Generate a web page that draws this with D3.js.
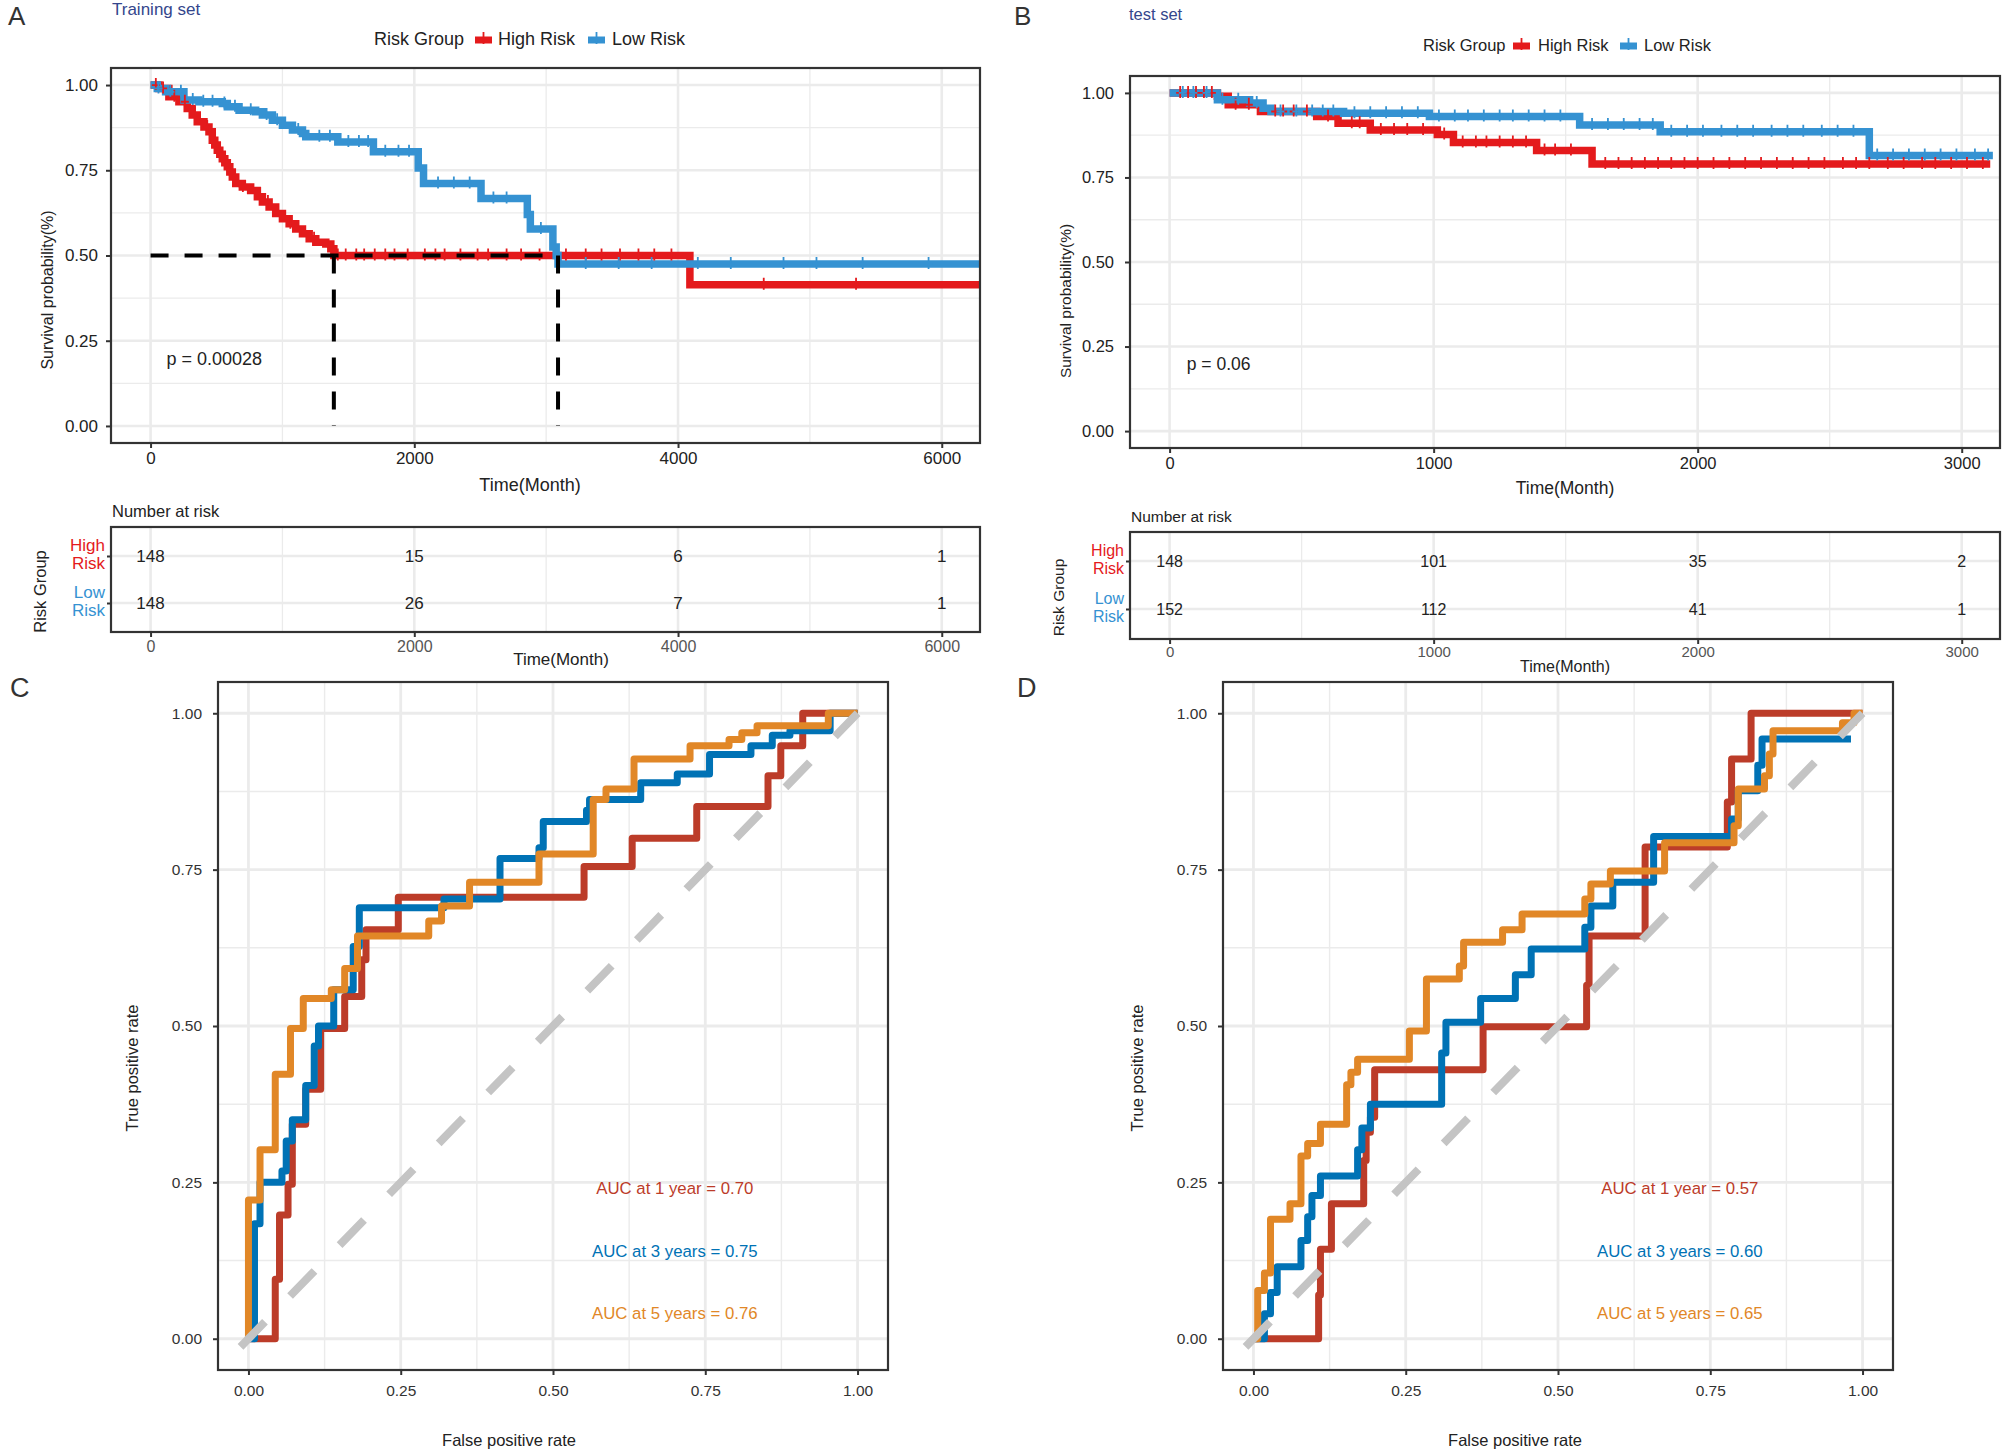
<!DOCTYPE html>
<html>
<head>
<meta charset="utf-8">
<script src="https://cdn.jsdelivr.net/npm/d3@7"></script>
<style>
  body { margin: 0; background: #fff; }
  svg text { font-family: "Liberation Sans", Arial, sans-serif; }
</style>
</head>
<body>
<svg id="fig" width="2008" height="1450"></svg>
<script>
// ---- Kaplan-Meier step data: [time, survival] ----
const trainHigh = [[0,1],[63,0.99],[139,0.966],[215,0.951],[278,0.931],[316,0.912],[354,0.892],[405,0.877],
  [443,0.863],[468,0.838],[487,0.824],[506,0.809],[525,0.797],[544,0.784],[563,0.772],[582,0.76],[601,0.745],
  [620,0.73],[646,0.711],[696,0.701],[759,0.691],[810,0.672],[848,0.657],[899,0.642],[949,0.623],[1000,0.608],
  [1051,0.593],[1101,0.578],[1152,0.564],[1203,0.549],[1253,0.539],[1329,0.534],[1367,0.52],[1390,0.5],
  [4090,0.414],[6290,0.414]];
const trainLow = [[0,1],[51,0.99],[114,0.98],[253,0.956],[367,0.951],[544,0.946],[582,0.936],[671,0.926],
  [797,0.922],[848,0.912],[924,0.897],[1000,0.882],[1076,0.868],[1152,0.858],[1177,0.848],[1420,0.833],
  [1690,0.804],[2030,0.757],[2070,0.711],[2506,0.667],[2857,0.62],[2880,0.578],[3051,0.525],[3076,0.5],
  [3090,0.475],[6290,0.475]];
const testHigh = [[0,1],[181,0.99],[222,0.965],[344,0.945],[557,0.93],[638,0.91],[760,0.89],[1014,0.877],
  [1075,0.853],[1390,0.83],[1600,0.79],[3108,0.79]];
const testLow = [[0,1],[181,0.98],[303,0.97],[354,0.955],[384,0.945],[659,0.94],[984,0.93],[1553,0.905],
  [1858,0.885],[2650,0.815],[3118,0.815]];

// censoring times
const trainHighCensor = [40,95,180,260,430,700,890,1060,1240,1420,1480,1560,1620,1700,1780,1850,1950,2080,
  2160,2230,2350,2480,2560,2700,2810,2950,3150,3300,3420,3560,3700,3820,3950,4650,5350];
const trainLowCensor = [60,150,230,320,400,470,560,640,760,880,960,1120,1280,1360,1500,1580,1650,1780,1880,
  1960,2180,2300,2420,2600,2700,2960,3300,3550,3800,4150,4400,4800,5050,5400,5900];
const testHighCensor = [40,70,100,130,160,250,300,400,430,470,520,600,690,720,800,850,900,960,1040,1110,1160,
  1200,1250,1300,1350,1420,1460,1520,1650,1700,1750,1800,1850,1900,1950,2000,2060,2120,2180,2240,2300,2360,
  2420,2480,2550,2600,2650,2720,2780,2850,2900,2960,3020,3080];
const testLowCensor = [50,90,140,200,260,330,420,480,540,580,620,700,760,820,880,940,1020,1080,1130,1190,1250,
  1300,1360,1420,1480,1600,1660,1720,1780,1830,1900,1960,2020,2090,2150,2210,2280,2340,2400,2470,2530,2590,
  2680,2740,2800,2860,2920,2980,3050,3100];

const trainMedians = [1390, 3090];
const trainP = 'p = 0.00028';
const testP = 'p = 0.06';

// number at risk
const riskGroups = ['High Risk', 'Low Risk'];
const trainRiskTimes = [0, 2000, 4000, 6000];
const trainRiskHigh = [148, 15, 6, 1];
const trainRiskLow = [148, 26, 7, 1];
const testRiskTimes = [0, 1000, 2000, 3000];
const testRiskHigh = [148, 101, 35, 2];
const testRiskLow = [152, 112, 41, 1];

// ---- time-dependent ROC: [FPR, TPR] at each jump ----
const rocLabels = ['AUC at 1 year', 'AUC at 3 years', 'AUC at 5 years'];
const trainAUC = [0.70, 0.75, 0.76];
const testAUC = [0.57, 0.60, 0.65];
const trainRoc1 = [[0,0],[0.044,0.095],[0.051,0.198],[0.065,0.247],[0.072,0.343],[0.094,0.399],[0.1185,0.496],
  [0.158,0.547],[0.186,0.606],[0.193,0.654],[0.246,0.706],[0.551,0.755],[0.63,0.8],[0.736,0.851],[0.853,0.9],
  [0.874,0.948],[0.91,1],[1,1]];
const trainRoc3 = [[0,0],[0.0099,0.184],[0.019,0.25],[0.055,0.268],[0.062,0.316],[0.072,0.35],[0.094,0.405],
  [0.108,0.468],[0.115,0.5],[0.14,0.558],[0.172,0.627],[0.182,0.689],[0.321,0.703],[0.413,0.768],[0.477,0.785],
  [0.484,0.827],[0.555,0.845],[0.56,0.862],[0.644,0.889],[0.704,0.903],[0.757,0.934],[0.825,0.948],[0.86,0.965],
  [0.889,0.972],[0.955,1],[1,1]];
const trainRoc5 = [[0,0],[0,0.222],[0.019,0.302],[0.044,0.423],[0.069,0.496],[0.09,0.544],[0.136,0.558],
  [0.158,0.592],[0.179,0.644],[0.296,0.668],[0.317,0.692],[0.363,0.73],[0.477,0.775],[0.566,0.862],[0.587,0.879],
  [0.633,0.927],[0.725,0.948],[0.789,0.958],[0.81,0.969],[0.835,0.98],[0.952,1],[1,1]];
const testRoc1 = [[0,0],[0.107,0.07],[0.11,0.143],[0.128,0.216],[0.181,0.285],[0.185,0.33],[0.192,0.354],
  [0.199,0.43],[0.377,0.499],[0.547,0.565],[0.551,0.644],[0.643,0.786],[0.778,0.858],[0.785,0.927],[0.817,1],[1,1]];
const testRoc3 = [[0,0],[0.018,0.04],[0.028,0.074],[0.039,0.115],[0.078,0.157],[0.089,0.195],[0.096,0.229],
  [0.11,0.26],[0.171,0.302],[0.178,0.337],[0.192,0.375],[0.309,0.457],[0.316,0.506],[0.373,0.544],[0.43,0.582],
  [0.456,0.623],[0.544,0.658],[0.554,0.692],[0.59,0.73],[0.657,0.803],[0.785,0.831],[0.796,0.876],[0.828,0.917],
  [0.835,0.959],[0.981,0.959]];
const testRoc5 = [[0,0],[0.007,0.077],[0.018,0.105],[0.028,0.191],[0.06,0.216],[0.078,0.292],[0.089,0.312],
  [0.11,0.343],[0.153,0.406],[0.16,0.426],[0.171,0.447],[0.256,0.492],[0.284,0.575],[0.338,0.596],[0.345,0.634],
  [0.409,0.654],[0.441,0.679],[0.544,0.703],[0.554,0.727],[0.586,0.748],[0.675,0.793],[0.789,0.82],[0.796,0.879],
  [0.839,0.9],[0.847,0.935],[0.853,0.972],[0.967,0.985],[0.986,1],[1,1]];

const HIGH = '#E41A1C', LOW = '#3592D2';
const ROC_COLORS = ['#BC3C29', '#0072B5', '#E18727'];
const GRID = '#EBEBEB';

const svg = d3.select('#fig');
const defs = svg.append('defs');

function label(g, txt, x, y, size, opts = {}) {
  const t = g.append('text').attr('x', x).attr('y', y).attr('font-size', size)
    .attr('fill', opts.fill || '#222').attr('text-anchor', opts.anchor || 'start').text(txt);
  if (opts.rotate) {
    t.attr('x', 0).attr('y', 0).attr('transform', `translate(${x},${y}) rotate(-90)`)
      .attr('text-anchor', 'middle').attr('dominant-baseline', 'central');
  }
  if (opts.central) t.attr('dominant-baseline', 'central');
  return t;
}

function gridLines(g, x, y, box, xs, ys, width) {
  g.append('g').selectAll('line').data(xs).join('line')
    .attr('x1', d => x(d)).attr('x2', d => x(d)).attr('y1', box.top).attr('y2', box.bottom)
    .attr('stroke', GRID).attr('stroke-width', width);
  g.append('g').selectAll('line').data(ys).join('line')
    .attr('y1', d => y(d)).attr('y2', d => y(d)).attr('x1', box.left).attr('x2', box.right)
    .attr('stroke', GRID).attr('stroke-width', width);
}

function styleAxis(ax, size, fill) {
  ax.attr('font-family', null).attr('font-size', size);
  ax.select('.domain').remove();
  ax.selectAll('.tick line').attr('stroke', '#333').attr('stroke-width', 2);
  ax.selectAll('.tick text').attr('fill', fill);
}

function border(g, box) {
  g.append('rect').attr('x', box.left).attr('y', box.top)
    .attr('width', box.right - box.left).attr('height', box.bottom - box.top)
    .attr('fill', 'none').attr('stroke', '#333').attr('stroke-width', 2.2);
}

function survAt(values, t) {
  const i = d3.bisector(d => d[0]).right(values, t) - 1;
  return values[Math.max(0, i)][1];
}

function plusMark(g, cx, cy, color) {
  g.append('path').attr('d', `M${cx - 4},${cy}H${cx + 4}M${cx},${cy - 7}V${cy + 5}`)
    .attr('stroke', color).attr('stroke-width', 1.8).attr('fill', 'none');
}

function drawKM(o) {
  const g = svg.append('g');
  const x = d3.scaleLinear().domain(o.xDomain).range([o.left, o.right]);
  const y = d3.scaleLinear().domain([-0.05, 1.05]).range([o.bottom, o.top]);
  gridLines(g, x, y, o, o.xMinor, [0.125, 0.375, 0.625, 0.875], 1.3);
  gridLines(g, x, y, o, o.xTicks, [0, 0.25, 0.5, 0.75, 1], 2.6);

  defs.append('clipPath').attr('id', o.id).append('rect')
    .attr('x', o.left).attr('y', o.top).attr('width', o.right - o.left).attr('height', o.bottom - o.top);
  const body = g.append('g').attr('clip-path', `url(#${o.id})`);
  const line = d3.line().x(d => x(d[0])).y(d => y(d[1])).curve(d3.curveStepAfter);
  o.series.forEach(s => {
    body.append('path').datum(s.values).attr('d', line).attr('fill', 'none')
      .attr('stroke', s.color).attr('stroke-width', 7.5);
  });
  o.series.forEach(s => {
    s.censor.forEach(t => plusMark(body, x(t), y(survAt(s.values, t)), s.color));
  });
  if (o.medians) {
    const dash = '18,16';
    body.append('line').attr('x1', x(0)).attr('x2', x(d3.max(o.medians))).attr('y1', y(0.5)).attr('y2', y(0.5))
      .attr('stroke', '#000').attr('stroke-width', 4).attr('stroke-dasharray', dash);
    o.medians.forEach(m => body.append('line').attr('x1', x(m)).attr('x2', x(m)).attr('y1', y(0.5)).attr('y2', y(0))
      .attr('stroke', '#000').attr('stroke-width', 4).attr('stroke-dasharray', dash));
  }
  border(g, o);

  const ax = g.append('g').attr('transform', `translate(0,${o.bottom})`)
    .call(d3.axisBottom(x).tickValues(o.xTicks).tickSize(5).tickPadding(4).tickFormat(d3.format('d')));
  styleAxis(ax, o.fs, '#222');
  const ay = g.append('g').attr('transform', `translate(${o.left},0)`)
    .call(d3.axisLeft(y).tickValues([0, 0.25, 0.5, 0.75, 1]).tickSize(5).tickPadding(o.yPad).tickFormat(d3.format('.2f')));
  styleAxis(ay, o.fs, '#222');

  label(g, 'Time(Month)', o.xTitle[0], o.xTitle[1], o.fs + 1, { anchor: 'middle' });
  label(g, 'Survival probability(%)', o.yTitle[0], o.yTitle[1], o.fs - 1, { rotate: true });
  label(g, o.p, x(o.pPos[0]), y(o.pPos[1]), o.fs + 1);

  // panel letter, set title and legend
  label(svg, o.letter, o.letterX, 25, 26, { fill: '#333' });
  label(svg, o.title, o.titleX, o.titleY, o.fs, { fill: '#34468C' });
  const lg = svg.append('g');
  label(lg, 'Risk Group', o.legend[0], o.legendY, o.legendFs);
  o.series.forEach((s, i) => {
    const kx = o.legend[1 + i * 2], ky = o.legendY - 5;
    lg.append('line').attr('x1', kx).attr('x2', kx + 17).attr('y1', ky).attr('y2', ky)
      .attr('stroke', s.color).attr('stroke-width', 7);
    plusMark(lg, kx + 8.5, ky - 1, s.color);
    label(lg, s.name, o.legend[2 + i * 2], o.legendY, o.legendFs);
  });
  return x;
}

function drawRiskTable(o, x) {
  const g = svg.append('g');
  const y = d3.scalePoint().domain(riskGroups).range(o.rows);
  gridLines(g, x, y, o, o.xMinor, [], 1.3);
  gridLines(g, x, y, o, o.xTicks, riskGroups, 2.6);
  o.counts.forEach((c, gi) => {
    g.append('g').selectAll('text').data(o.times).join('text')
      .attr('x', (d, i) => x(d)).attr('y', y(riskGroups[gi])).attr('text-anchor', 'middle')
      .attr('dominant-baseline', 'central').attr('font-size', o.fs).attr('fill', '#222')
      .text((d, i) => c[i]);
  });
  border(g, o);
  const ax = g.append('g').attr('transform', `translate(0,${o.bottom})`)
    .call(d3.axisBottom(x).tickValues(o.xTicks).tickSize(5).tickPadding(o.xPad).tickFormat(d3.format('d')));
  styleAxis(ax, o.fs - 1, '#555');
  const ay = g.append('g').attr('transform', `translate(${o.left},0)`)
    .call(d3.axisLeft(y).tickSize(4).tickFormat(''));
  styleAxis(ay, o.fs, '#222');
  riskGroups.forEach((name, i) => {
    const words = name.split(' ');
    const t = g.append('text').attr('text-anchor', 'end').attr('font-size', o.fs)
      .attr('fill', [HIGH, LOW][i]);
    t.append('tspan').attr('x', o.left - 6).attr('y', y(name) - 5).text(words[0]);
    t.append('tspan').attr('x', o.left - 6).attr('y', y(name) + 13).text(words[1]);
  });
  label(g, 'Number at risk', o.left + 1, o.top - 10, o.fs - 0.5);
  label(g, 'Risk Group', o.yTitleX, (o.top + o.bottom) / 2 + 12, o.fs - 0.5, { rotate: true });
  label(g, 'Time(Month)', o.xTitle[0], o.xTitle[1], o.fs, { anchor: 'middle' });
}

function drawROC(o) {
  const g = svg.append('g');
  const x = d3.scaleLinear().domain([-0.05, 1.05]).range([o.left, o.right]);
  const y = d3.scaleLinear().domain([-0.05, 1.05]).range([o.bottom, o.top]);
  const major = [0, 0.25, 0.5, 0.75, 1], minor = [0.125, 0.375, 0.625, 0.875];
  gridLines(g, x, y, o, minor, minor, 1.4);
  gridLines(g, x, y, o, major, major, 2.8);
  defs.append('clipPath').attr('id', o.id).append('rect')
    .attr('x', o.left).attr('y', o.top).attr('width', o.right - o.left).attr('height', o.bottom - o.top);
  const body = g.append('g').attr('clip-path', `url(#${o.id})`);
  const line = d3.line().x(d => x(d[0])).y(d => y(d[1])).curve(d3.curveStepAfter);
  o.curves.forEach((c, i) => {
    body.append('path').datum(c).attr('d', line).attr('fill', 'none')
      .attr('stroke', ROC_COLORS[i]).attr('stroke-width', 7).attr('stroke-linejoin', 'round');
  });
  body.append('line').attr('x1', x(-0.013)).attr('y1', y(-0.013)).attr('x2', x(1)).attr('y2', y(1))
    .attr('stroke', '#C4C4C4').attr('stroke-width', 8).attr('stroke-dasharray', '35,36');
  o.auc.forEach((a, i) => {
    label(g, `${rocLabels[i]} = ${a.toFixed(2)}`, x(0.70), y([0.24, 0.14, 0.04][i]), 16.8,
      { anchor: 'middle', central: true, fill: ROC_COLORS[i] });
  });
  border(g, o);
  const fmt = d3.format('.2f');
  const ax = g.append('g').attr('transform', `translate(0,${o.bottom})`)
    .call(d3.axisBottom(x).tickValues(major).tickSize(5).tickPadding(10).tickFormat(fmt));
  styleAxis(ax, 15.5, '#333');
  const ay = g.append('g').attr('transform', `translate(${o.left},0)`)
    .call(d3.axisLeft(y).tickValues(major).tickSize(5).tickPadding(11).tickFormat(fmt));
  styleAxis(ay, 15.5, '#333');
  label(g, 'False positive rate', o.xTitle[0], o.xTitle[1], 16.5, { anchor: 'middle' });
  label(g, 'True positive rate', o.yTitleX, 1068, 16.5, { rotate: true });
  label(svg, o.letter, o.letterX, 697, 27, { fill: '#333' });
}

// ---- A: training set ----
const xA = drawKM({
  id: 'clipA', left: 111, right: 980, top: 68, bottom: 443, xDomain: [-300, 6290],
  xTicks: [0, 2000, 4000, 6000], xMinor: [1000, 3000, 5000], fs: 17, yPad: 8,
  series: [
    { name: 'High Risk', color: HIGH, values: trainHigh, censor: trainHighCensor },
    { name: 'Low Risk', color: LOW, values: trainLow, censor: trainLowCensor }
  ],
  medians: trainMedians, p: trainP, pPos: [120, 0.18],
  xTitle: [530, 491], yTitle: [47, 290],
  letter: 'A', letterX: 8, title: 'Training set', titleX: 112, titleY: 15,
  legend: [374, 475, 498, 588, 612], legendY: 45, legendFs: 18
});
drawRiskTable({
  left: 111, right: 980, top: 527, bottom: 632, rows: [556, 603], fs: 17, xPad: 4,
  times: trainRiskTimes, counts: [trainRiskHigh, trainRiskLow],
  xTicks: [0, 2000, 4000, 6000], xMinor: [1000, 3000, 5000],
  yTitleX: 40, xTitle: [561, 665]
}, xA);

// ---- B: test set ----
const xB = drawKM({
  id: 'clipB', left: 1130, right: 2000, top: 76, bottom: 448, xDomain: [-150, 3145],
  xTicks: [0, 1000, 2000, 3000], xMinor: [500, 1500, 2500], fs: 16.5, yPad: 11,
  series: [
    { name: 'High Risk', color: HIGH, values: testHigh, censor: testHighCensor },
    { name: 'Low Risk', color: LOW, values: testLow, censor: testLowCensor }
  ],
  medians: null, p: testP, pPos: [65, 0.18],
  xTitle: [1565, 494], yTitle: [1065, 301],
  letter: 'B', letterX: 1014, title: 'test set', titleX: 1129, titleY: 20,
  legend: [1423, 1513, 1538, 1620, 1644], legendY: 51, legendFs: 16.5
});
drawRiskTable({
  left: 1130, right: 2000, top: 532, bottom: 639, rows: [561, 609], fs: 16, xPad: 2,
  times: testRiskTimes, counts: [testRiskHigh, testRiskLow],
  xTicks: [0, 1000, 2000, 3000], xMinor: [500, 1500, 2500],
  yTitleX: 1058, xTitle: [1565, 672]
}, xB);

// ---- C and D: time-dependent ROC ----
drawROC({
  id: 'clipC', left: 218, right: 888, top: 682, bottom: 1370,
  curves: [trainRoc1, trainRoc3, trainRoc5], auc: trainAUC,
  xTitle: [509, 1446], yTitleX: 132, letter: 'C', letterX: 10
});
drawROC({
  id: 'clipD', left: 1223, right: 1893, top: 682, bottom: 1370,
  curves: [testRoc1, testRoc3, testRoc5], auc: testAUC,
  xTitle: [1515, 1446], yTitleX: 1137, letter: 'D', letterX: 1017
});
</script>
</body>
</html>
